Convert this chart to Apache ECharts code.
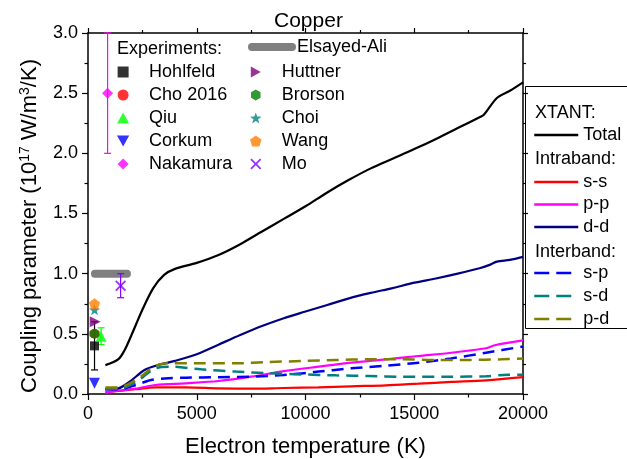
<!DOCTYPE html>
<html>
<head>
<meta charset="utf-8">
<script src="https://cdn.jsdelivr.net/npm/echarts@6/dist/echarts.min.js"></script>
<style>
html, body { margin: 0; padding: 0; background: #fff; }
#chart { width: 627px; height: 459px; }
</style>
</head>
<body>
<div id="chart"></div>
<script>
const FONT = 'Liberation Sans, Arial, sans-serif';

// XTANT calculations (electron temperature K, coupling 1e17 W/m^3/K)
const totalT = [800, 1400, 1700, 2000, 2500, 3000, 3500, 4000, 5000, 6000, 7000, 8000, 9000, 10000, 11000, 12000, 13000, 14000, 15000, 16000, 17000, 18000, 18200, 18800, 19400, 20000];
const totalG = [0.24, 0.29, 0.37, 0.49, 0.70, 0.88, 0.99, 1.04, 1.09, 1.155, 1.245, 1.35, 1.455, 1.56, 1.675, 1.78, 1.875, 1.955, 2.035, 2.12, 2.21, 2.30, 2.32, 2.46, 2.52, 2.59];

const ddT = [800, 1400, 1900, 2600, 3200, 4000, 5000, 6000, 7000, 8000, 9000, 10000, 11000, 12000, 13000, 14000, 15000, 16000, 17000, 18000, 18500, 18800, 19400, 20000];
const ddG = [0.04, 0.047, 0.10, 0.20, 0.24, 0.275, 0.33, 0.41, 0.49, 0.565, 0.63, 0.685, 0.74, 0.795, 0.84, 0.88, 0.925, 0.96, 1.0, 1.045, 1.075, 1.10, 1.115, 1.14];

const ssT = [800, 1400, 2200, 3100, 4500, 6000, 7500, 9000, 10600, 12100, 13700, 15200, 16700, 18300, 20000];
const ssG = [0.017, 0.025, 0.04, 0.055, 0.055, 0.047, 0.044, 0.05, 0.055, 0.064, 0.072, 0.086, 0.10, 0.114, 0.14];

const ppT = [800, 1400, 2200, 3100, 4500, 6000, 7500, 9000, 10600, 12100, 13700, 15200, 16700, 18300, 18700, 20000];
const ppG = [0.011, 0.028, 0.044, 0.075, 0.089, 0.108, 0.144, 0.19, 0.227, 0.26, 0.288, 0.316, 0.343, 0.38, 0.405, 0.445];

const spT = [800, 1400, 2200, 2900, 3700, 4500, 6000, 7500, 9000, 10600, 12100, 13700, 15200, 16700, 18300, 20000];
const spG = [0.039, 0.039, 0.075, 0.116, 0.13, 0.136, 0.139, 0.144, 0.158, 0.186, 0.213, 0.235, 0.26, 0.296, 0.343, 0.395];

const sdT = [800, 1400, 2200, 3100, 3800, 5200, 6800, 8300, 9800, 11400, 12900, 14400, 16700, 18300, 19300, 20000];
const sdG = [0.044, 0.044, 0.10, 0.213, 0.227, 0.205, 0.186, 0.172, 0.163, 0.155, 0.15, 0.144, 0.144, 0.147, 0.16, 0.16];

const pdT = [800, 1400, 2200, 3100, 3700, 5200, 6800, 8300, 9800, 11400, 12900, 14400, 16000, 17500, 19000, 20000];
const pdG = [0.055, 0.055, 0.116, 0.233, 0.255, 0.255, 0.255, 0.266, 0.274, 0.283, 0.288, 0.288, 0.283, 0.283, 0.288, 0.296];

// experiments
const expNames = ['Hohlfeld', 'Cho 2016', 'Qiu', 'Corkum', 'Nakamura', 'Huttner', 'Brorson', 'Choi', 'Wang', 'Mo'];
const expT = [300, 300, 600, 300, 900, 330, 300, 300, 300, 1500];
const expG = [0.40, 0.50, 0.48, 0.09, 2.50, 0.60, 0.50, 0.70, 0.75, 0.90];
const expColors = ['#000000', '#ff0000', '#00ff00', '#0000ff', '#ff00ff', '#800080', '#008000', '#008080', '#ff8000', '#8000ff'];

const errT = [300, 600, 900, 1500];
const errLo = [0.20, 0.41, 2.0, 0.80];
const errHi = [0.60, 0.55, 3.0, 1.00];
const errColors = ['#000000', '#00ff00', '#ff00ff', '#8000ff'];

const elsT = [320, 1790];
const elsG = [1.0, 1.0];

const SYM = {
    square: 'path://M0,0 L10,0 L10,10 L0,10 Z',
    circle: 'path://M5,0 A5,5 0 1 1 5,10 A5,5 0 1 1 5,0 Z',
    up: 'path://M5,0 L10,9 L0,9 Z',
    down: 'path://M0,0 L10,0 L5,9 Z',
    diamond: 'path://M5,0 L10,5 L5,10 L0,5 Z',
    right: 'path://M0,0 L9,5 L0,10 Z',
    hexagon: 'path://M5,0 L9.33,2.5 L9.33,7.5 L5,10 L0.67,7.5 L0.67,2.5 Z',
    star: 'path://M5,0 L6.18,3.38 L9.76,3.46 L6.9,5.62 L7.94,9.05 L5,7 L2.06,9.05 L3.1,5.62 L0.24,3.46 L3.82,3.38 Z',
    pentagon: 'path://M5,0 L9.76,3.46 L7.94,9.05 L2.06,9.05 L0.24,3.46 Z',
    cross: 'path://M0,1.2 L1.2,0 L5,3.8 L8.8,0 L10,1.2 L6.2,5 L10,8.8 L8.8,10 L5,6.2 L1.2,10 L0,8.8 L3.8,5 Z'
};
const expSymbols = [SYM.square, SYM.circle, SYM.up, SYM.down, SYM.diamond, SYM.right, SYM.hexagon, SYM.star, SYM.pentagon, SYM.cross];
const expSizes = [9, 10, 11, 11, 11, 11, 10, 11, 11, 11];

function zip(xs, ys) {
    return xs.map((x, i) => [x, ys[i]]);
}

function lineSeries(name, xs, ys, color, dashed) {
    return {
        name: name,
        type: 'line',
        data: zip(xs, ys),
        symbol: 'none',
        smooth: 0.3,
        lineStyle: { color: color, width: dashed ? 2.5 : 2.2, type: dashed ? [12, 7] : 'solid' },
        itemStyle: { color: color },
        z: 3
    };
}

const series = [];
series.push(lineSeries('Total', totalT, totalG, '#000000', false));
series.push(lineSeries('s-s', ssT, ssG, '#ff0000', false));
series.push(lineSeries('p-p', ppT, ppG, '#ff00ff', false));
series.push(lineSeries('d-d', ddT, ddG, '#000080', false));
series.push(lineSeries('s-p', spT, spG, '#0000ff', true));
series.push(lineSeries('s-d', sdT, sdG, '#008080', true));
series.push(lineSeries('p-d', pdT, pdG, '#808000', true));

series.push({
    name: 'Elsayed-Ali',
    type: 'line',
    data: zip(elsT, elsG),
    symbol: 'none',
    lineStyle: { color: '#808080', width: 8, cap: 'round' },
    itemStyle: { color: '#808080' },
    z: 4
});

// error bars
series.push({
    type: 'custom',
    z: 5,
    data: errT.map((t, i) => ({ value: [t, errLo[i], errHi[i]], itemStyle: { color: errColors[i] } })),
    renderItem: (params, api) => {
        const lo = api.coord([api.value(0), api.value(1)]);
        const hi = api.coord([api.value(0), api.value(2)]);
        const c = api.visual('color');
        const st = { stroke: c, lineWidth: 1.2 };
        const w = 3.5;
        return {
            type: 'group',
            children: [
                { type: 'line', shape: { x1: lo[0], y1: lo[1], x2: hi[0], y2: hi[1] }, style: st },
                { type: 'line', shape: { x1: lo[0] - w, y1: lo[1], x2: lo[0] + w, y2: lo[1] }, style: st },
                { type: 'line', shape: { x1: hi[0] - w, y1: hi[1], x2: hi[0] + w, y2: hi[1] }, style: st }
            ]
        };
    }
});

expNames.forEach((name, i) => {
    series.push({
        name: name,
        type: 'scatter',
        data: [[expT[i], expG[i]]],
        symbol: expSymbols[i],
        symbolSize: expSizes[i],
        itemStyle: { color: expColors[i] },
        z: 6
    });
});

const legendText = { fontSize: 18, color: '#000', fontFamily: FONT };
const hiddenDot = { color: 'transparent', borderWidth: 0 };

const option = {
    animation: false,
    backgroundColor: '#fff',
    textStyle: { fontFamily: FONT },
    grid: { left: 88, top: 33, right: 104, bottom: 65, outerBoundsMode: 'none' },
    xAxis: [{
        type: 'value', min: 0, max: 20000, interval: 5000, position: 'bottom',
        name: 'Electron temperature (K)', nameLocation: 'middle', nameGap: 42,
        nameTextStyle: { fontSize: 22, color: '#000', fontFamily: FONT },
        axisLine: { onZero: false, lineStyle: { color: '#000', width: 1.5 } },
        axisTick: { inside: false, length: 6, lineStyle: { color: '#000', width: 1.2 } },
        minorTick: { show: true, splitNumber: 2, length: 3.5, lineStyle: { color: '#000', width: 1.2 } },
        splitLine: { show: false },
        axisLabel: { fontSize: 18, color: '#000', margin: 11, fontFamily: FONT, formatter: v => String(v) }
    }, {
        type: 'value', min: 0, max: 20000, interval: 5000, position: 'top',
        axisLine: { onZero: false, lineStyle: { color: '#000', width: 1.5 } },
        axisTick: { inside: false, length: 5, lineStyle: { color: '#000', width: 1.2 } },
        minorTick: { show: true, splitNumber: 2, length: 3, lineStyle: { color: '#000', width: 1.2 } },
        splitLine: { show: false },
        axisLabel: { show: false }
    }],
    yAxis: [{
        type: 'value', min: 0, max: 3, interval: 0.5, position: 'left',
        name: '{a|Coupling parameter (10}{s|17}{a| W/m}{s|3}{a|/K)}',
        nameLocation: 'middle', nameGap: 46,
        nameTextStyle: {
            color: '#000', fontFamily: FONT, padding: [0, 25, 0, 0],
            rich: {
                a: { fontSize: 22, color: '#000', fontFamily: FONT, lineHeight: 24 },
                s: { fontSize: 14, color: '#000', fontFamily: FONT, verticalAlign: 'top', lineHeight: 24 }
            }
        },
        axisLine: { onZero: false, lineStyle: { color: '#000', width: 1.5 } },
        axisTick: { inside: false, length: 6, lineStyle: { color: '#000', width: 1.2 } },
        minorTick: { show: true, splitNumber: 2, length: 3.5, lineStyle: { color: '#000', width: 1.2 } },
        splitLine: { show: false },
        axisLabel: { fontSize: 18, color: '#000', margin: 10, fontFamily: FONT, formatter: v => v.toFixed(1) }
    }, {
        type: 'value', min: 0, max: 3, interval: 0.5, position: 'right',
        axisLine: { onZero: false, lineStyle: { color: '#000', width: 1.5 } },
        axisTick: { inside: false, length: 5, lineStyle: { color: '#000', width: 1.2 } },
        minorTick: { show: true, splitNumber: 2, length: 3, lineStyle: { color: '#000', width: 1.2 } },
        splitLine: { show: false },
        axisLabel: { show: false }
    }],
    legend: [{
        data: expNames.slice(0, 5), orient: 'vertical', left: 117, top: 63,
        padding: 0, itemGap: 5, itemWidth: 42, itemHeight: 11, textStyle: legendText
    }, {
        data: expNames.slice(5), orient: 'vertical', left: 250, top: 63,
        padding: 0, itemGap: 5, itemWidth: 42, itemHeight: 11, textStyle: legendText
    }, {
        data: ['Elsayed-Ali'], orient: 'vertical', left: 248, top: 38,
        padding: 0, itemWidth: 40, itemHeight: 18, textStyle: legendText,
        itemStyle: hiddenDot, lineStyle: { width: 8, cap: 'round' }
    }, {
        data: ['Total'], orient: 'vertical', left: 533, top: 126,
        padding: 0, itemWidth: 44, itemHeight: 18, textStyle: legendText,
        itemStyle: hiddenDot, lineStyle: { width: 2.5 }
    }, {
        data: ['s-s', 'p-p', 'd-d'], orient: 'vertical', left: 533, top: 173,
        padding: 0, itemGap: 4.5, itemWidth: 44, itemHeight: 18, textStyle: legendText,
        itemStyle: hiddenDot, lineStyle: { width: 2.5 }
    }, {
        data: ['s-p', 's-d', 'p-d'], orient: 'vertical', left: 533, top: 264,
        padding: 0, itemGap: 5, itemWidth: 44, itemHeight: 18, textStyle: legendText,
        itemStyle: hiddenDot, lineStyle: { width: 2.5, type: [15, 7] }
    }],
    graphic: [
        { type: 'text', left: 274, top: 11, style: { text: 'Copper', fontSize: 21, fill: '#000', fontFamily: FONT } },
        { type: 'text', left: 117, top: 40, style: { text: 'Experiments:', fontSize: 18, fill: '#000', fontFamily: FONT } },
        { type: 'polyline', shape: { points: [[700, 86.5], [525.5, 86.5], [525.5, 328.5], [700, 328.5]] }, style: { fill: 'none', stroke: '#000', lineWidth: 1 } },
        { type: 'text', left: 535, top: 104, style: { text: 'XTANT:', fontSize: 18, fill: '#000', fontFamily: FONT } },
        { type: 'text', left: 535, top: 150, style: { text: 'Intraband:', fontSize: 18, fill: '#000', fontFamily: FONT } },
        { type: 'text', left: 535, top: 243, style: { text: 'Interband:', fontSize: 18, fill: '#000', fontFamily: FONT } }
    ],
    series: series
};

const chart = echarts.init(document.getElementById('chart'));
chart.setOption(option);
</script>
</body>
</html>
